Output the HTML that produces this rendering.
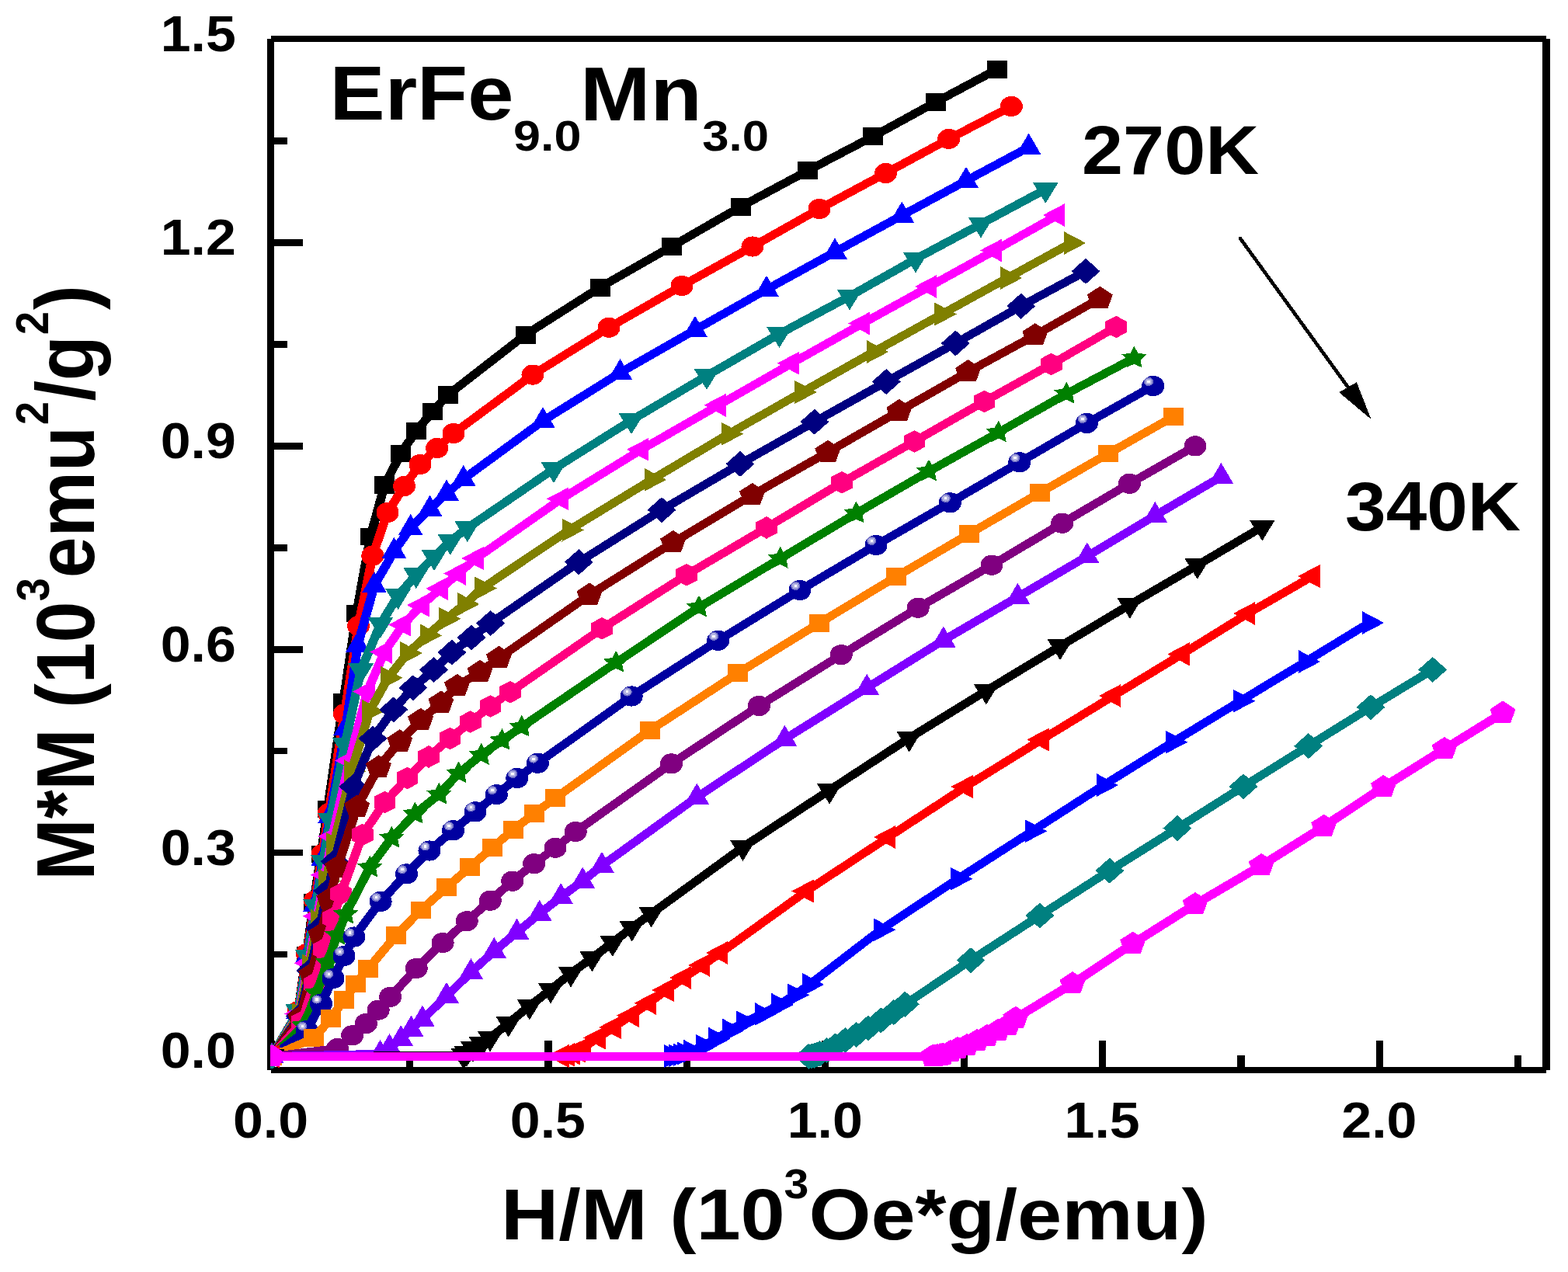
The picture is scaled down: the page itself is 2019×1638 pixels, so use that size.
<!DOCTYPE html>
<html><head><meta charset="utf-8"><style>html,body{margin:0;padding:0;background:#fff;}svg{display:block;}</style></head>
<body>
<svg width="2019" height="1638" viewBox="0 0 2019 1638" shape-rendering="crispEdges">
<rect width="2019" height="1638" fill="#fff"/>
<g stroke="#000" fill="none">
<line x1="348.5" y1="50" x2="348.5" y2="1377.5" stroke-width="9"/>
<line x1="348.5" y1="1377.5" x2="1990.9" y2="1377.5" stroke-width="8"/>
<line x1="348.5" y1="50" x2="1990.9" y2="50" stroke-width="8"/>
<line x1="1990.9" y1="50" x2="1990.9" y2="1377.5" stroke-width="9.5"/>
<line x1="348.5" y1="1359.8" x2="390" y2="1359.8" stroke-width="8.6"/>
<line x1="348.5" y1="1228.9" x2="369.7" y2="1228.9" stroke-width="8.6"/>
<line x1="348.5" y1="1098" x2="390" y2="1098" stroke-width="8.6"/>
<line x1="348.5" y1="967.1" x2="369.7" y2="967.1" stroke-width="8.6"/>
<line x1="348.5" y1="836.2" x2="390" y2="836.2" stroke-width="8.6"/>
<line x1="348.5" y1="705.3" x2="369.7" y2="705.3" stroke-width="8.6"/>
<line x1="348.5" y1="574.4" x2="390" y2="574.4" stroke-width="8.6"/>
<line x1="348.5" y1="443.5" x2="369.7" y2="443.5" stroke-width="8.6"/>
<line x1="348.5" y1="312.6" x2="390" y2="312.6" stroke-width="8.6"/>
<line x1="348.5" y1="181.7" x2="369.7" y2="181.7" stroke-width="8.6"/>
<line x1="349" y1="1377.5" x2="349" y2="1340" stroke-width="9.2"/>
<line x1="527.4" y1="1377.5" x2="527.4" y2="1358.7" stroke-width="9.2"/>
<line x1="705.9" y1="1377.5" x2="705.9" y2="1340" stroke-width="9.2"/>
<line x1="884.3" y1="1377.5" x2="884.3" y2="1358.7" stroke-width="9.2"/>
<line x1="1062.7" y1="1377.5" x2="1062.7" y2="1340" stroke-width="9.2"/>
<line x1="1241.1" y1="1377.5" x2="1241.1" y2="1358.7" stroke-width="9.2"/>
<line x1="1419.6" y1="1377.5" x2="1419.6" y2="1340" stroke-width="9.2"/>
<line x1="1598" y1="1377.5" x2="1598" y2="1358.7" stroke-width="9.2"/>
<line x1="1776.4" y1="1377.5" x2="1776.4" y2="1340" stroke-width="9.2"/>
<line x1="1954.8" y1="1377.5" x2="1954.8" y2="1358.7" stroke-width="9.2"/>
</g>
<defs><clipPath id="pc"><rect x="348" y="50" width="1643" height="1327.5"/></clipPath></defs>
<g clip-path="url(#pc)">
<polyline transform="scale(1.115,1)" points="313.90,1360.4 343.81,1306.2 353.72,1230.2 362.33,1162.0 370.94,1100.0 378.30,1042.0 396.41,904.5 411.66,790.0 427.80,691.0 444.13,624.8 462.78,584.0 480.72,555.0 499.55,530.0 517.49,508.3 606.82,431.0 693.00,370.0 775.78,317.3 855.43,266.1 932.74,219.8 1008.07,175.8 1080.72,131.4 1151.57,89.2" fill="none" stroke="#000000" stroke-width="10.5" stroke-linejoin="round"/>
<rect x="337.1" y="1349" width="25.8" height="22.9" fill="#000000"/>
<rect x="370.5" y="1294.8" width="25.8" height="22.9" fill="#000000"/>
<rect x="381.5" y="1218.8" width="25.8" height="22.9" fill="#000000"/>
<rect x="391.1" y="1150.5" width="25.8" height="22.9" fill="#000000"/>
<rect x="400.7" y="1088.5" width="25.8" height="22.9" fill="#000000"/>
<rect x="408.9" y="1030.5" width="25.8" height="22.9" fill="#000000"/>
<rect x="429.1" y="893" width="25.8" height="22.9" fill="#000000"/>
<rect x="446.1" y="778.5" width="25.8" height="22.9" fill="#000000"/>
<rect x="464.1" y="679.5" width="25.8" height="22.9" fill="#000000"/>
<rect x="482.3" y="613.3" width="25.8" height="22.9" fill="#000000"/>
<rect x="503.1" y="572.5" width="25.8" height="22.9" fill="#000000"/>
<rect x="523.1" y="543.5" width="25.8" height="22.9" fill="#000000"/>
<rect x="544.1" y="518.5" width="25.8" height="22.9" fill="#000000"/>
<rect x="564.1" y="496.9" width="25.8" height="22.9" fill="#000000"/>
<rect x="663.7" y="419.6" width="25.8" height="22.9" fill="#000000"/>
<rect x="759.8" y="358.6" width="25.8" height="22.9" fill="#000000"/>
<rect x="852.1" y="305.9" width="25.8" height="22.9" fill="#000000"/>
<rect x="940.9" y="254.7" width="25.8" height="22.9" fill="#000000"/>
<rect x="1027.1" y="208.4" width="25.8" height="22.9" fill="#000000"/>
<rect x="1111.1" y="164.4" width="25.8" height="22.9" fill="#000000"/>
<rect x="1192.1" y="120" width="25.8" height="22.9" fill="#000000"/>
<rect x="1271.1" y="77.8" width="25.8" height="22.9" fill="#000000"/>
<polyline transform="scale(1.115,1)" points="313.90,1360.4 344.37,1302.2 354.57,1228.0 363.59,1160.0 372.20,1100.0 379.64,1047.2 397.76,919.3 413.90,806.0 430.31,715.7 447.53,660.0 466.82,626.0 485.20,598.0 504.66,577.0 523.77,558.0 615.25,482.6 703.14,421.8 787.44,368.0 869.06,317.5 946.19,269.0 1022.87,223.0 1095.70,178.9 1167.98,137.0" fill="none" stroke="#FF0000" stroke-width="10.5" stroke-linejoin="round"/>
<ellipse cx="350" cy="1360.4" rx="14.5" ry="13.1" fill="#FF0000"/>
<ellipse cx="384" cy="1302.2" rx="14.5" ry="13.1" fill="#FF0000"/>
<ellipse cx="395.3" cy="1228" rx="14.5" ry="13.1" fill="#FF0000"/>
<ellipse cx="405.4" cy="1160" rx="14.5" ry="13.1" fill="#FF0000"/>
<ellipse cx="415" cy="1100" rx="14.5" ry="13.1" fill="#FF0000"/>
<ellipse cx="423.3" cy="1047.2" rx="14.5" ry="13.1" fill="#FF0000"/>
<ellipse cx="443.5" cy="919.3" rx="14.5" ry="13.1" fill="#FF0000"/>
<ellipse cx="461.5" cy="806" rx="14.5" ry="13.1" fill="#FF0000"/>
<ellipse cx="479.8" cy="715.7" rx="14.5" ry="13.1" fill="#FF0000"/>
<ellipse cx="499" cy="660" rx="14.5" ry="13.1" fill="#FF0000"/>
<ellipse cx="520.5" cy="626" rx="14.5" ry="13.1" fill="#FF0000"/>
<ellipse cx="541" cy="598" rx="14.5" ry="13.1" fill="#FF0000"/>
<ellipse cx="562.7" cy="577" rx="14.5" ry="13.1" fill="#FF0000"/>
<ellipse cx="584" cy="558" rx="14.5" ry="13.1" fill="#FF0000"/>
<ellipse cx="686" cy="482.6" rx="14.5" ry="13.1" fill="#FF0000"/>
<ellipse cx="784" cy="421.8" rx="14.5" ry="13.1" fill="#FF0000"/>
<ellipse cx="878" cy="368" rx="14.5" ry="13.1" fill="#FF0000"/>
<ellipse cx="969" cy="317.5" rx="14.5" ry="13.1" fill="#FF0000"/>
<ellipse cx="1055" cy="269" rx="14.5" ry="13.1" fill="#FF0000"/>
<ellipse cx="1140.5" cy="223" rx="14.5" ry="13.1" fill="#FF0000"/>
<ellipse cx="1221.7" cy="178.9" rx="14.5" ry="13.1" fill="#FF0000"/>
<ellipse cx="1302.3" cy="137" rx="14.5" ry="13.1" fill="#FF0000"/>
<polyline transform="scale(1.115,1)" points="313.90,1360.4 344.49,1302.7 355.03,1230.8 364.29,1164.6 373.03,1106.4 380.99,1051.0 399.10,938.0 413.18,831.0 432.29,754.0 455.11,709.8 474.13,680.0 496.41,655.5 515.70,635.5 535.16,616.9 626.91,542.0 716.14,480.0 802.69,424.8 885.20,372.8 964.13,324.5 1041.52,277.5 1115.70,232.7 1187.98,189.6" fill="none" stroke="#0000FF" stroke-width="10.5" stroke-linejoin="round"/>
<polygon points="350,1342.4 365.8,1369.4 334.2,1369.4" fill="#0000FF"/>
<polygon points="384.1,1284.7 399.9,1311.7 368.4,1311.7" fill="#0000FF"/>
<polygon points="395.9,1212.8 411.6,1239.8 380.1,1239.8" fill="#0000FF"/>
<polygon points="406.2,1146.6 421.9,1173.6 390.4,1173.6" fill="#0000FF"/>
<polygon points="415.9,1088.4 431.7,1115.4 400.2,1115.4" fill="#0000FF"/>
<polygon points="424.8,1033 440.6,1060 409.1,1060" fill="#0000FF"/>
<polygon points="445,920 460.8,947 429.2,947" fill="#0000FF"/>
<polygon points="460.7,813 476.4,840 444.9,840" fill="#0000FF"/>
<polygon points="482,736 497.8,763 466.2,763" fill="#0000FF"/>
<polygon points="507.4,691.8 523.2,718.8 491.7,718.8" fill="#0000FF"/>
<polygon points="528.7,662 544.4,689 512.9,689" fill="#0000FF"/>
<polygon points="553.5,637.5 569.2,664.5 537.8,664.5" fill="#0000FF"/>
<polygon points="575,617.5 590.8,644.5 559.2,644.5" fill="#0000FF"/>
<polygon points="596.7,598.9 612.5,625.9 581,625.9" fill="#0000FF"/>
<polygon points="699,524 714.8,551 683.2,551" fill="#0000FF"/>
<polygon points="798.5,462 814.2,489 782.8,489" fill="#0000FF"/>
<polygon points="895,406.8 910.8,433.8 879.2,433.8" fill="#0000FF"/>
<polygon points="987,354.8 1002.8,381.8 971.2,381.8" fill="#0000FF"/>
<polygon points="1075,306.5 1090.8,333.5 1059.2,333.5" fill="#0000FF"/>
<polygon points="1161.3,259.5 1177,286.5 1145.5,286.5" fill="#0000FF"/>
<polygon points="1244,214.7 1259.8,241.7 1228.2,241.7" fill="#0000FF"/>
<polygon points="1324.6,171.6 1340.3,198.6 1308.8,198.6" fill="#0000FF"/>
<polyline transform="scale(1.115,1)" points="313.90,1360.4 344.41,1302.4 355.21,1231.9 364.60,1167.0 373.43,1109.7 381.52,1055.7 398.39,959.0 416.77,863.0 439.46,803.6 459.73,767.0 480.54,740.0 501.35,717.2 520.00,696.8 539.73,680.0 639.46,604.0 729.15,541.2 816.14,483.9 900.00,430.0 981.17,381.5 1057.40,333.5 1132.74,288.5 1207.44,243.8" fill="none" stroke="#008080" stroke-width="10.5" stroke-linejoin="round"/>
<polygon points="333.5,1351.4 366.5,1351.4 350,1378.4" fill="#008080"/>
<polygon points="367.5,1293.4 400.5,1293.4 384,1320.4" fill="#008080"/>
<polygon points="379.6,1222.9 412.6,1222.9 396.1,1249.9" fill="#008080"/>
<polygon points="390,1158 423,1158 406.5,1185" fill="#008080"/>
<polygon points="399.9,1100.7 432.9,1100.7 416.4,1127.7" fill="#008080"/>
<polygon points="408.9,1046.7 441.9,1046.7 425.4,1073.7" fill="#008080"/>
<polygon points="427.7,950 460.7,950 444.2,977" fill="#008080"/>
<polygon points="448.2,854 481.2,854 464.7,881" fill="#008080"/>
<polygon points="473.5,794.6 506.5,794.6 490,821.6" fill="#008080"/>
<polygon points="496.1,758 529.1,758 512.6,785" fill="#008080"/>
<polygon points="519.3,731 552.3,731 535.8,758" fill="#008080"/>
<polygon points="542.5,708.2 575.5,708.2 559,735.2" fill="#008080"/>
<polygon points="563.3,687.8 596.3,687.8 579.8,714.8" fill="#008080"/>
<polygon points="585.3,671 618.3,671 601.8,698" fill="#008080"/>
<polygon points="696.5,595 729.5,595 713,622" fill="#008080"/>
<polygon points="796.5,532.2 829.5,532.2 813,559.2" fill="#008080"/>
<polygon points="893.5,474.9 926.5,474.9 910,501.9" fill="#008080"/>
<polygon points="987,421 1020,421 1003.5,448" fill="#008080"/>
<polygon points="1077.5,372.5 1110.5,372.5 1094,399.5" fill="#008080"/>
<polygon points="1162.5,324.5 1195.5,324.5 1179,351.5" fill="#008080"/>
<polygon points="1246.5,279.5 1279.5,279.5 1263,306.5" fill="#008080"/>
<polygon points="1329.8,234.8 1362.8,234.8 1346.3,261.8" fill="#008080"/>
<polyline transform="scale(1.115,1)" points="313.90,1360.4 345.25,1305.4 356.63,1240.1 366.42,1179.9 375.59,1126.7 384.05,1077.1 403.59,979.4 424.22,890.5 443.95,839.6 465.56,804.5 487.00,779.2 508.88,757.9 529.15,738.6 549.96,719.0 648.34,642.3 740.67,578.9 829.87,521.8 914.62,467.7 996.23,416.5 1073.36,369.0 1148.70,322.5 1221.35,277.0" fill="none" stroke="#FF00FF" stroke-width="10.5" stroke-linejoin="round"/>
<polygon points="331,1360.4 359.5,1345.4 359.5,1375.4" fill="#FF00FF"/>
<polygon points="366,1305.4 394.5,1290.4 394.5,1320.4" fill="#FF00FF"/>
<polygon points="378.6,1240.1 407.1,1225.1 407.1,1255.1" fill="#FF00FF"/>
<polygon points="389.6,1179.9 418.1,1164.9 418.1,1194.9" fill="#FF00FF"/>
<polygon points="399.8,1126.7 428.3,1111.7 428.3,1141.7" fill="#FF00FF"/>
<polygon points="409.2,1077.1 437.7,1062.1 437.7,1092.1" fill="#FF00FF"/>
<polygon points="431,979.4 459.5,964.4 459.5,994.4" fill="#FF00FF"/>
<polygon points="454,890.5 482.5,875.5 482.5,905.5" fill="#FF00FF"/>
<polygon points="476,839.6 504.5,824.6 504.5,854.6" fill="#FF00FF"/>
<polygon points="500.1,804.5 528.6,789.5 528.6,819.5" fill="#FF00FF"/>
<polygon points="524,779.2 552.5,764.2 552.5,794.2" fill="#FF00FF"/>
<polygon points="548.4,757.9 576.9,742.9 576.9,772.9" fill="#FF00FF"/>
<polygon points="571,738.6 599.5,723.6 599.5,753.6" fill="#FF00FF"/>
<polygon points="594.2,719 622.7,704 622.7,734" fill="#FF00FF"/>
<polygon points="703.9,642.3 732.4,627.3 732.4,657.3" fill="#FF00FF"/>
<polygon points="806.8,578.9 835.3,563.9 835.3,593.9" fill="#FF00FF"/>
<polygon points="906.3,521.8 934.8,506.8 934.8,536.8" fill="#FF00FF"/>
<polygon points="1000.8,467.7 1029.3,452.7 1029.3,482.7" fill="#FF00FF"/>
<polygon points="1091.8,416.5 1120.3,401.5 1120.3,431.5" fill="#FF00FF"/>
<polygon points="1177.8,369 1206.3,354 1206.3,384" fill="#FF00FF"/>
<polygon points="1261.8,322.5 1290.3,307.5 1290.3,337.5" fill="#FF00FF"/>
<polygon points="1342.8,277 1371.3,262 1371.3,292" fill="#FF00FF"/>
<polyline transform="scale(1.115,1)" points="313.90,1360.4 345.51,1306.3 357.26,1243.6 367.29,1185.7 376.63,1134.3 385.33,1087.0 406.01,993.3 426.82,915.9 448.16,872.8 470.76,841.2 493.27,818.3 515.25,796.9 536.68,778.0 556.86,757.5 657.40,682.5 752.47,617.8 841.43,558.8 926.28,505.0 1009.15,453.0 1087.62,404.6 1163.41,358.0 1236.95,313.0" fill="none" stroke="#808000" stroke-width="10.5" stroke-linejoin="round"/>
<polygon points="369,1360.4 340.5,1345.4 340.5,1375.4" fill="#808000"/>
<polygon points="404.2,1306.3 375.7,1291.3 375.7,1321.3" fill="#808000"/>
<polygon points="417.4,1243.6 388.9,1228.6 388.9,1258.6" fill="#808000"/>
<polygon points="428.5,1185.7 400,1170.7 400,1200.7" fill="#808000"/>
<polygon points="438.9,1134.3 410.4,1119.3 410.4,1149.3" fill="#808000"/>
<polygon points="448.6,1087 420.1,1072 420.1,1102" fill="#808000"/>
<polygon points="471.7,993.3 443.2,978.3 443.2,1008.3" fill="#808000"/>
<polygon points="494.9,915.9 466.4,900.9 466.4,930.9" fill="#808000"/>
<polygon points="518.7,872.8 490.2,857.8 490.2,887.8" fill="#808000"/>
<polygon points="543.9,841.2 515.4,826.2 515.4,856.2" fill="#808000"/>
<polygon points="569,818.3 540.5,803.3 540.5,833.3" fill="#808000"/>
<polygon points="593.5,796.9 565,781.9 565,811.9" fill="#808000"/>
<polygon points="617.4,778 588.9,763 588.9,793" fill="#808000"/>
<polygon points="639.9,757.5 611.4,742.5 611.4,772.5" fill="#808000"/>
<polygon points="752,682.5 723.5,667.5 723.5,697.5" fill="#808000"/>
<polygon points="858,617.8 829.5,602.8 829.5,632.8" fill="#808000"/>
<polygon points="957.2,558.8 928.7,543.8 928.7,573.8" fill="#808000"/>
<polygon points="1051.8,505 1023.3,490 1023.3,520" fill="#808000"/>
<polygon points="1144.2,453 1115.7,438 1115.7,468" fill="#808000"/>
<polygon points="1231.7,404.6 1203.2,389.6 1203.2,419.6" fill="#808000"/>
<polygon points="1316.2,358 1287.7,343 1287.7,373" fill="#808000"/>
<polygon points="1398.2,313 1369.7,298 1369.7,328" fill="#808000"/>
<polyline transform="scale(1.115,1)" points="313.90,1360.4 346.23,1308.6 358.50,1249.8 368.88,1195.5 378.53,1147.2 386.55,1109.4 408.07,1013.0 430.49,951.0 454.53,913.8 477.04,885.7 500.90,862.5 521.88,840.1 544.39,821.0 566.46,802.5 668.43,723.8 764.13,656.7 854.71,597.4 940.63,543.2 1023.50,491.5 1103.41,442.0 1179.10,394.2 1253.81,349.3" fill="none" stroke="#000080" stroke-width="10.5" stroke-linejoin="round"/>
<polygon points="350,1343.9 368.5,1360.4 350,1376.9 331.5,1360.4" fill="#000080"/>
<polygon points="386,1292.1 404.5,1308.6 386,1325.1 367.5,1308.6" fill="#000080"/>
<polygon points="399.7,1233.3 418.2,1249.8 399.7,1266.3 381.2,1249.8" fill="#000080"/>
<polygon points="411.3,1179 429.8,1195.5 411.3,1212 392.8,1195.5" fill="#000080"/>
<polygon points="422.1,1130.7 440.6,1147.2 422.1,1163.7 403.6,1147.2" fill="#000080"/>
<polygon points="431,1092.9 449.5,1109.4 431,1125.9 412.5,1109.4" fill="#000080"/>
<polygon points="455,996.5 473.5,1013 455,1029.5 436.5,1013" fill="#000080"/>
<polygon points="480,934.5 498.5,951 480,967.5 461.5,951" fill="#000080"/>
<polygon points="506.8,897.3 525.3,913.8 506.8,930.3 488.3,913.8" fill="#000080"/>
<polygon points="531.9,869.2 550.4,885.7 531.9,902.2 513.4,885.7" fill="#000080"/>
<polygon points="558.5,846 577,862.5 558.5,879 540,862.5" fill="#000080"/>
<polygon points="581.9,823.6 600.4,840.1 581.9,856.6 563.4,840.1" fill="#000080"/>
<polygon points="607,804.5 625.5,821 607,837.5 588.5,821" fill="#000080"/>
<polygon points="631.6,786 650.1,802.5 631.6,819 613.1,802.5" fill="#000080"/>
<polygon points="745.3,707.3 763.8,723.8 745.3,740.3 726.8,723.8" fill="#000080"/>
<polygon points="852,640.2 870.5,656.7 852,673.2 833.5,656.7" fill="#000080"/>
<polygon points="953,580.9 971.5,597.4 953,613.9 934.5,597.4" fill="#000080"/>
<polygon points="1048.8,526.7 1067.3,543.2 1048.8,559.7 1030.3,543.2" fill="#000080"/>
<polygon points="1141.2,475 1159.7,491.5 1141.2,508 1122.7,491.5" fill="#000080"/>
<polygon points="1230.3,425.5 1248.8,442 1230.3,458.5 1211.8,442" fill="#000080"/>
<polygon points="1314.7,377.7 1333.2,394.2 1314.7,410.7 1296.2,394.2" fill="#000080"/>
<polygon points="1398,332.8 1416.5,349.3 1398,365.8 1379.5,349.3" fill="#000080"/>
<polyline transform="scale(1.115,1)" points="313.90,1360.4 346.82,1310.4 359.63,1255.1 370.38,1204.0 380.31,1158.3 389.69,1117.2 412.29,1039.2 437.13,988.0 461.70,954.9 485.74,927.4 509.33,905.0 527.89,883.5 554.26,865.4 576.23,847.4 680.72,766.1 777.31,698.5 868.70,637.5 955.96,582.3 1038.39,529.5 1118.03,478.7 1195.34,431.7 1270.22,384.3" fill="none" stroke="#800000" stroke-width="10.5" stroke-linejoin="round"/>
<polygon points="350,1344.8 366.5,1355.6 360.2,1373 339.8,1373 333.5,1355.6" fill="#800000"/>
<polygon points="386.7,1294.8 403.3,1305.6 396.9,1323 376.5,1323 370.2,1305.6" fill="#800000"/>
<polygon points="401,1239.5 417.5,1250.3 411.2,1267.8 390.8,1267.8 384.4,1250.3" fill="#800000"/>
<polygon points="413,1188.4 429.5,1199.1 423.2,1216.6 402.7,1216.6 396.4,1199.1" fill="#800000"/>
<polygon points="424,1142.7 440.6,1153.5 434.3,1170.9 413.8,1170.9 407.5,1153.5" fill="#800000"/>
<polygon points="434.5,1101.6 451,1112.3 444.7,1129.8 424.3,1129.8 418,1112.3" fill="#800000"/>
<polygon points="459.7,1023.6 476.2,1034.4 469.9,1051.8 449.5,1051.8 443.2,1034.4" fill="#800000"/>
<polygon points="487.4,972.4 503.9,983.2 497.6,1000.6 477.2,1000.6 470.9,983.2" fill="#800000"/>
<polygon points="514.8,939.3 531.3,950.1 525,967.5 504.6,967.5 498.3,950.1" fill="#800000"/>
<polygon points="541.6,911.8 558.1,922.6 551.8,940 531.4,940 525.1,922.6" fill="#800000"/>
<polygon points="567.9,889.4 584.4,900.2 578.1,917.6 557.7,917.6 551.4,900.2" fill="#800000"/>
<polygon points="588.6,867.9 605.1,878.7 598.8,896.1 578.4,896.1 572.1,878.7" fill="#800000"/>
<polygon points="618,849.8 634.5,860.6 628.2,878 607.8,878 601.5,860.6" fill="#800000"/>
<polygon points="642.5,831.8 659,842.6 652.7,860 632.3,860 626,842.6" fill="#800000"/>
<polygon points="759,750.5 775.5,761.3 769.2,778.7 748.8,778.7 742.5,761.3" fill="#800000"/>
<polygon points="866.7,682.9 883.2,693.7 876.9,711.1 856.5,711.1 850.2,693.7" fill="#800000"/>
<polygon points="968.6,621.9 985.1,632.7 978.8,650.1 958.4,650.1 952.1,632.7" fill="#800000"/>
<polygon points="1065.9,566.7 1082.4,577.5 1076.1,594.9 1055.7,594.9 1049.4,577.5" fill="#800000"/>
<polygon points="1157.8,513.9 1174.3,524.7 1168,542.1 1147.6,542.1 1141.3,524.7" fill="#800000"/>
<polygon points="1246.6,463.1 1263.1,473.9 1256.8,491.3 1236.4,491.3 1230.1,473.9" fill="#800000"/>
<polygon points="1332.8,416.1 1349.3,426.9 1343,444.3 1322.6,444.3 1316.3,426.9" fill="#800000"/>
<polygon points="1416.3,368.7 1432.8,379.5 1426.5,396.9 1406.1,396.9 1399.8,379.5" fill="#800000"/>
<polyline transform="scale(1.115,1)" points="313.90,1360.4 348.76,1315.6 362.57,1267.3 374.09,1222.4 384.69,1182.3 393.72,1151.0 418.57,1075.0 444.39,1033.1 470.40,1001.9 495.07,974.5 519.73,950.9 543.44,929.5 566.46,909.4 588.97,891.3 695.16,809.4 792.83,740.2 885.20,679.5 972.20,621.3 1055.87,568.5 1136.77,517.0 1214.08,469.0 1288.88,421.0" fill="none" stroke="#FF0080" stroke-width="10.5" stroke-linejoin="round"/>
<polygon points="350,1346.1 363.8,1353.2 363.8,1367.6 350,1374.7 336.2,1367.6 336.2,1353.2" fill="#FF0080"/>
<polygon points="388.9,1301.3 402.7,1308.5 402.7,1322.8 388.9,1329.9 375.1,1322.8 375.1,1308.5" fill="#FF0080"/>
<polygon points="404.3,1253 418.1,1260.1 418.1,1274.4 404.3,1281.6 390.5,1274.4 390.5,1260.1" fill="#FF0080"/>
<polygon points="417.1,1208.1 430.9,1215.3 430.9,1229.6 417.1,1236.7 403.3,1229.6 403.3,1215.3" fill="#FF0080"/>
<polygon points="428.9,1168 442.7,1175.1 442.7,1189.4 428.9,1196.6 415.1,1189.4 415.1,1175.1" fill="#FF0080"/>
<polygon points="439,1136.7 452.8,1143.8 452.8,1158.2 439,1165.3 425.2,1158.2 425.2,1143.8" fill="#FF0080"/>
<polygon points="466.7,1060.7 480.5,1067.8 480.5,1082.2 466.7,1089.3 452.9,1082.2 452.9,1067.8" fill="#FF0080"/>
<polygon points="495.5,1018.8 509.3,1025.9 509.3,1040.2 495.5,1047.4 481.7,1040.2 481.7,1025.9" fill="#FF0080"/>
<polygon points="524.5,987.6 538.3,994.8 538.3,1009 524.5,1016.2 510.7,1009 510.7,994.8" fill="#FF0080"/>
<polygon points="552,960.2 565.8,967.4 565.8,981.6 552,988.8 538.2,981.6 538.2,967.4" fill="#FF0080"/>
<polygon points="579.5,936.6 593.3,943.8 593.3,958 579.5,965.2 565.7,958 565.7,943.8" fill="#FF0080"/>
<polygon points="605.9,915.2 619.7,922.3 619.7,936.6 605.9,943.8 592.1,936.6 592.1,922.3" fill="#FF0080"/>
<polygon points="631.6,895.1 645.4,902.2 645.4,916.5 631.6,923.7 617.8,916.5 617.8,902.2" fill="#FF0080"/>
<polygon points="656.7,877 670.5,884.1 670.5,898.4 656.7,905.6 642.9,898.4 642.9,884.1" fill="#FF0080"/>
<polygon points="775.1,795.1 788.9,802.2 788.9,816.5 775.1,823.7 761.3,816.5 761.3,802.2" fill="#FF0080"/>
<polygon points="884,725.9 897.8,733.1 897.8,747.4 884,754.5 870.2,747.4 870.2,733.1" fill="#FF0080"/>
<polygon points="987,665.2 1000.8,672.4 1000.8,686.6 987,693.8 973.2,686.6 973.2,672.4" fill="#FF0080"/>
<polygon points="1084,607 1097.8,614.1 1097.8,628.4 1084,635.6 1070.2,628.4 1070.2,614.1" fill="#FF0080"/>
<polygon points="1177.3,554.2 1191.1,561.4 1191.1,575.6 1177.3,582.8 1163.5,575.6 1163.5,561.4" fill="#FF0080"/>
<polygon points="1267.5,502.7 1281.3,509.9 1281.3,524.1 1267.5,531.3 1253.7,524.1 1253.7,509.9" fill="#FF0080"/>
<polygon points="1353.7,454.7 1367.5,461.9 1367.5,476.1 1353.7,483.3 1339.9,476.2 1339.9,461.9" fill="#FF0080"/>
<polygon points="1437.1,406.7 1450.9,413.9 1450.9,428.1 1437.1,435.3 1423.3,428.2 1423.3,413.9" fill="#FF0080"/>
<polyline transform="scale(1.115,1)" points="313.90,1360.4 350.87,1320.5 365.83,1278.4 378.21,1239.3 389.56,1204.2 399.19,1177.0 427.09,1117.0 452.29,1079.0 479.37,1048.0 507.09,1023.0 529.60,995.8 555.83,972.3 579.78,953.4 602.42,936.1 711.39,853.3 807.17,782.0 901.08,719.3 988.79,661.0 1072.65,607.0 1153.09,557.0 1231.66,507.0 1309.78,461.0" fill="none" stroke="#008000" stroke-width="10.5" stroke-linejoin="round"/>
<polygon points="350,1345.1 355,1354.2 366.2,1355.7 358.1,1362.8 360,1372.8 350,1368.1 340,1372.8 341.9,1362.8 333.8,1355.7 345,1354.2" fill="#008000"/>
<polygon points="391.2,1305.2 396.2,1314.3 407.4,1315.8 399.3,1322.9 401.2,1332.9 391.2,1328.2 381.2,1332.9 383.1,1322.9 375,1315.8 386.2,1314.3" fill="#008000"/>
<polygon points="407.9,1263.1 412.9,1272.2 424.1,1273.7 416,1280.7 417.9,1290.8 407.9,1286 397.9,1290.8 399.8,1280.7 391.7,1273.7 402.9,1272.2" fill="#008000"/>
<polygon points="421.7,1224 426.7,1233.1 437.9,1234.6 429.8,1241.6 431.7,1251.7 421.7,1246.9 411.7,1251.7 413.6,1241.6 405.5,1234.6 416.7,1233.1" fill="#008000"/>
<polygon points="434.4,1188.9 439.4,1198 450.6,1199.5 442.5,1206.6 444.4,1216.6 434.4,1211.9 424.3,1216.6 426.2,1206.6 418.1,1199.5 429.3,1198" fill="#008000"/>
<polygon points="445.1,1161.7 450.1,1170.8 461.3,1172.3 453.2,1179.4 455.1,1189.4 445.1,1184.7 435.1,1189.4 437,1179.4 428.9,1172.3 440.1,1170.8" fill="#008000"/>
<polygon points="476.2,1101.7 481.2,1110.8 492.4,1112.3 484.3,1119.4 486.2,1129.4 476.2,1124.7 466.2,1129.4 468.1,1119.4 460,1112.3 471.2,1110.8" fill="#008000"/>
<polygon points="504.3,1063.7 509.3,1072.8 520.5,1074.3 512.4,1081.4 514.3,1091.4 504.3,1086.7 494.3,1091.4 496.2,1081.4 488.1,1074.3 499.3,1072.8" fill="#008000"/>
<polygon points="534.5,1032.7 539.5,1041.8 550.7,1043.3 542.6,1050.4 544.5,1060.4 534.5,1055.7 524.5,1060.4 526.4,1050.4 518.3,1043.3 529.5,1041.8" fill="#008000"/>
<polygon points="565.4,1007.7 570.4,1016.8 581.6,1018.3 573.5,1025.4 575.4,1035.4 565.4,1030.7 555.4,1035.4 557.3,1025.4 549.2,1018.3 560.4,1016.8" fill="#008000"/>
<polygon points="590.5,980.5 595.5,989.6 606.7,991.1 598.6,998.2 600.5,1008.2 590.5,1003.4 580.5,1008.2 582.4,998.2 574.3,991.1 585.5,989.6" fill="#008000"/>
<polygon points="619.7,957 624.8,966.1 636,967.6 627.9,974.7 629.8,984.7 619.7,979.9 609.7,984.7 611.6,974.7 603.5,967.6 614.7,966.1" fill="#008000"/>
<polygon points="646.4,938.1 651.5,947.2 662.7,948.7 654.6,955.8 656.5,965.8 646.4,961.1 636.4,965.8 638.3,955.8 630.2,948.7 641.4,947.2" fill="#008000"/>
<polygon points="671.7,920.9 676.7,930 687.9,931.4 679.8,938.5 681.7,948.5 671.7,943.8 661.7,948.5 663.6,938.5 655.5,931.4 666.7,930" fill="#008000"/>
<polygon points="793.2,838 798.2,847.1 809.4,848.6 801.3,855.7 803.2,865.7 793.2,860.9 783.2,865.7 785.1,855.7 777,848.6 788.2,847.1" fill="#008000"/>
<polygon points="900,766.7 905,775.8 916.2,777.3 908.1,784.4 910,794.4 900,789.6 890,794.4 891.9,784.4 883.8,777.3 895,775.8" fill="#008000"/>
<polygon points="1004.7,704 1009.7,713.1 1020.9,714.6 1012.8,721.7 1014.7,731.7 1004.7,726.9 994.7,731.7 996.6,721.7 988.5,714.6 999.7,713.1" fill="#008000"/>
<polygon points="1102.5,645.7 1107.5,654.8 1118.7,656.3 1110.6,663.4 1112.5,673.4 1102.5,668.6 1092.5,673.4 1094.4,663.4 1086.3,656.3 1097.5,654.8" fill="#008000"/>
<polygon points="1196,591.7 1201,600.8 1212.2,602.3 1204.1,609.4 1206,619.4 1196,614.6 1186,619.4 1187.9,609.4 1179.8,602.3 1191,600.8" fill="#008000"/>
<polygon points="1285.7,541.7 1290.7,550.8 1301.9,552.3 1293.8,559.4 1295.7,569.4 1285.7,564.6 1275.7,569.4 1277.6,559.4 1269.5,552.3 1280.7,550.8" fill="#008000"/>
<polygon points="1373.3,491.7 1378.3,500.8 1389.5,502.3 1381.4,509.4 1383.3,519.4 1373.3,514.6 1363.3,519.4 1365.2,509.4 1357.1,502.3 1368.3,500.8" fill="#008000"/>
<polygon points="1460.4,445.7 1465.4,454.8 1476.6,456.3 1468.5,463.4 1470.4,473.4 1460.4,468.6 1450.4,473.4 1452.3,463.4 1444.2,456.3 1455.4,454.8" fill="#008000"/>
<polyline transform="scale(1.115,1)" points="313.90,1360.4 354.26,1327.0 370.85,1292.6 384.75,1260.0 397.31,1231.0 408.97,1206.5 439.55,1160.9 469.51,1125.4 495.96,1095.5 523.28,1069.3 548.86,1045.4 573.49,1023.1 597.13,1002.0 620.99,982.7 729.37,896.5 829.33,824.8 923.77,760.0 1011.66,702.0 1097.13,647.3 1177.40,595.3 1255.07,545.0 1331.57,497.0" fill="none" stroke="#0000A0" stroke-width="10.5" stroke-linejoin="round"/>
<ellipse cx="350" cy="1360.4" rx="14.5" ry="13.1" fill="#0000A0"/><ellipse cx="344.3" cy="1354.8" rx="6.2" ry="5.6" fill="#7474c8"/><ellipse cx="344.3" cy="1354.8" rx="4.3" ry="3.9" fill="#b2b2e2"/><rect x="342.5" y="1353.2" width="3.6" height="3.2" fill="#fff"/>
<ellipse cx="395" cy="1327" rx="14.5" ry="13.1" fill="#0000A0"/><ellipse cx="389.3" cy="1321.4" rx="6.2" ry="5.6" fill="#7474c8"/><ellipse cx="389.3" cy="1321.4" rx="4.3" ry="3.9" fill="#b2b2e2"/><rect x="387.5" y="1319.8" width="3.6" height="3.2" fill="#fff"/>
<ellipse cx="413.5" cy="1292.6" rx="14.5" ry="13.1" fill="#0000A0"/><ellipse cx="407.8" cy="1287" rx="6.2" ry="5.6" fill="#7474c8"/><ellipse cx="407.8" cy="1287" rx="4.3" ry="3.9" fill="#b2b2e2"/><rect x="406" y="1285.4" width="3.6" height="3.2" fill="#fff"/>
<ellipse cx="429" cy="1260" rx="14.5" ry="13.1" fill="#0000A0"/><ellipse cx="423.3" cy="1254.4" rx="6.2" ry="5.6" fill="#7474c8"/><ellipse cx="423.3" cy="1254.4" rx="4.3" ry="3.9" fill="#b2b2e2"/><rect x="421.5" y="1252.8" width="3.6" height="3.2" fill="#fff"/>
<ellipse cx="443" cy="1231" rx="14.5" ry="13.1" fill="#0000A0"/><ellipse cx="437.3" cy="1225.4" rx="6.2" ry="5.6" fill="#7474c8"/><ellipse cx="437.3" cy="1225.4" rx="4.3" ry="3.9" fill="#b2b2e2"/><rect x="435.5" y="1223.8" width="3.6" height="3.2" fill="#fff"/>
<ellipse cx="456" cy="1206.5" rx="14.5" ry="13.1" fill="#0000A0"/><ellipse cx="450.3" cy="1200.9" rx="6.2" ry="5.6" fill="#7474c8"/><ellipse cx="450.3" cy="1200.9" rx="4.3" ry="3.9" fill="#b2b2e2"/><rect x="448.5" y="1199.3" width="3.6" height="3.2" fill="#fff"/>
<ellipse cx="490.1" cy="1160.9" rx="14.5" ry="13.1" fill="#0000A0"/><ellipse cx="484.4" cy="1155.3" rx="6.2" ry="5.6" fill="#7474c8"/><ellipse cx="484.4" cy="1155.3" rx="4.3" ry="3.9" fill="#b2b2e2"/><rect x="482.6" y="1153.7" width="3.6" height="3.2" fill="#fff"/>
<ellipse cx="523.5" cy="1125.4" rx="14.5" ry="13.1" fill="#0000A0"/><ellipse cx="517.8" cy="1119.8" rx="6.2" ry="5.6" fill="#7474c8"/><ellipse cx="517.8" cy="1119.8" rx="4.3" ry="3.9" fill="#b2b2e2"/><rect x="516" y="1118.2" width="3.6" height="3.2" fill="#fff"/>
<ellipse cx="553" cy="1095.5" rx="14.5" ry="13.1" fill="#0000A0"/><ellipse cx="547.3" cy="1089.9" rx="6.2" ry="5.6" fill="#7474c8"/><ellipse cx="547.3" cy="1089.9" rx="4.3" ry="3.9" fill="#b2b2e2"/><rect x="545.5" y="1088.3" width="3.6" height="3.2" fill="#fff"/>
<ellipse cx="583.5" cy="1069.3" rx="14.5" ry="13.1" fill="#0000A0"/><ellipse cx="577.8" cy="1063.7" rx="6.2" ry="5.6" fill="#7474c8"/><ellipse cx="577.8" cy="1063.7" rx="4.3" ry="3.9" fill="#b2b2e2"/><rect x="576" y="1062.1" width="3.6" height="3.2" fill="#fff"/>
<ellipse cx="612" cy="1045.4" rx="14.5" ry="13.1" fill="#0000A0"/><ellipse cx="606.3" cy="1039.8" rx="6.2" ry="5.6" fill="#7474c8"/><ellipse cx="606.3" cy="1039.8" rx="4.3" ry="3.9" fill="#b2b2e2"/><rect x="604.5" y="1038.2" width="3.6" height="3.2" fill="#fff"/>
<ellipse cx="639.4" cy="1023.1" rx="14.5" ry="13.1" fill="#0000A0"/><ellipse cx="633.7" cy="1017.5" rx="6.2" ry="5.6" fill="#7474c8"/><ellipse cx="633.7" cy="1017.5" rx="4.3" ry="3.9" fill="#b2b2e2"/><rect x="631.9" y="1015.9" width="3.6" height="3.2" fill="#fff"/>
<ellipse cx="665.8" cy="1002" rx="14.5" ry="13.1" fill="#0000A0"/><ellipse cx="660.1" cy="996.4" rx="6.2" ry="5.6" fill="#7474c8"/><ellipse cx="660.1" cy="996.4" rx="4.3" ry="3.9" fill="#b2b2e2"/><rect x="658.3" y="994.8" width="3.6" height="3.2" fill="#fff"/>
<ellipse cx="692.4" cy="982.7" rx="14.5" ry="13.1" fill="#0000A0"/><ellipse cx="686.7" cy="977.1" rx="6.2" ry="5.6" fill="#7474c8"/><ellipse cx="686.7" cy="977.1" rx="4.3" ry="3.9" fill="#b2b2e2"/><rect x="684.9" y="975.5" width="3.6" height="3.2" fill="#fff"/>
<ellipse cx="813.2" cy="896.5" rx="14.5" ry="13.1" fill="#0000A0"/><ellipse cx="807.5" cy="890.9" rx="6.2" ry="5.6" fill="#7474c8"/><ellipse cx="807.5" cy="890.9" rx="4.3" ry="3.9" fill="#b2b2e2"/><rect x="805.8" y="889.2" width="3.6" height="3.2" fill="#fff"/>
<ellipse cx="924.7" cy="824.8" rx="14.5" ry="13.1" fill="#0000A0"/><ellipse cx="919" cy="819.2" rx="6.2" ry="5.6" fill="#7474c8"/><ellipse cx="919" cy="819.2" rx="4.3" ry="3.9" fill="#b2b2e2"/><rect x="917.2" y="817.6" width="3.6" height="3.2" fill="#fff"/>
<ellipse cx="1030" cy="760" rx="14.5" ry="13.1" fill="#0000A0"/><ellipse cx="1024.3" cy="754.4" rx="6.2" ry="5.6" fill="#7474c8"/><ellipse cx="1024.3" cy="754.4" rx="4.3" ry="3.9" fill="#b2b2e2"/><rect x="1022.5" y="752.8" width="3.6" height="3.2" fill="#fff"/>
<ellipse cx="1128" cy="702" rx="14.5" ry="13.1" fill="#0000A0"/><ellipse cx="1122.3" cy="696.4" rx="6.2" ry="5.6" fill="#7474c8"/><ellipse cx="1122.3" cy="696.4" rx="4.3" ry="3.9" fill="#b2b2e2"/><rect x="1120.5" y="694.8" width="3.6" height="3.2" fill="#fff"/>
<ellipse cx="1223.3" cy="647.3" rx="14.5" ry="13.1" fill="#0000A0"/><ellipse cx="1217.6" cy="641.7" rx="6.2" ry="5.6" fill="#7474c8"/><ellipse cx="1217.6" cy="641.7" rx="4.3" ry="3.9" fill="#b2b2e2"/><rect x="1215.8" y="640.1" width="3.6" height="3.2" fill="#fff"/>
<ellipse cx="1312.8" cy="595.3" rx="14.5" ry="13.1" fill="#0000A0"/><ellipse cx="1307.1" cy="589.7" rx="6.2" ry="5.6" fill="#7474c8"/><ellipse cx="1307.1" cy="589.7" rx="4.3" ry="3.9" fill="#b2b2e2"/><rect x="1305.3" y="588.1" width="3.6" height="3.2" fill="#fff"/>
<ellipse cx="1399.4" cy="545" rx="14.5" ry="13.1" fill="#0000A0"/><ellipse cx="1393.7" cy="539.4" rx="6.2" ry="5.6" fill="#7474c8"/><ellipse cx="1393.7" cy="539.4" rx="4.3" ry="3.9" fill="#b2b2e2"/><rect x="1391.9" y="537.8" width="3.6" height="3.2" fill="#fff"/>
<ellipse cx="1484.7" cy="497" rx="14.5" ry="13.1" fill="#0000A0"/><ellipse cx="1479" cy="491.4" rx="6.2" ry="5.6" fill="#7474c8"/><ellipse cx="1479" cy="491.4" rx="4.3" ry="3.9" fill="#b2b2e2"/><rect x="1477.2" y="489.8" width="3.6" height="3.2" fill="#fff"/>
<polyline transform="scale(1.115,1)" points="313.90,1360.4 362.60,1336.8 382.06,1311.6 397.31,1287.3 410.76,1267.0 425.11,1247.4 457.40,1204.7 485.92,1172.0 515.70,1142.8 542.71,1116.5 568.38,1091.8 592.56,1068.6 617.31,1047.4 641.17,1027.7 750.67,940.4 852.20,866.8 946.19,802.4 1034.98,742.5 1119.46,687.3 1201.17,634.3 1280.00,584.0 1354.89,536.6" fill="none" stroke="#FF8000" stroke-width="10.5" stroke-linejoin="round"/>
<rect x="337.1" y="1349" width="25.8" height="22.9" fill="#FF8000"/>
<rect x="391.4" y="1325.3" width="25.8" height="22.9" fill="#FF8000"/>
<rect x="413.1" y="1300.1" width="25.8" height="22.9" fill="#FF8000"/>
<rect x="430.1" y="1275.8" width="25.8" height="22.9" fill="#FF8000"/>
<rect x="445.1" y="1255.5" width="25.8" height="22.9" fill="#FF8000"/>
<rect x="461.1" y="1236" width="25.8" height="22.9" fill="#FF8000"/>
<rect x="497.1" y="1193.2" width="25.8" height="22.9" fill="#FF8000"/>
<rect x="528.9" y="1160.5" width="25.8" height="22.9" fill="#FF8000"/>
<rect x="562.1" y="1131.4" width="25.8" height="22.9" fill="#FF8000"/>
<rect x="592.2" y="1105" width="25.8" height="22.9" fill="#FF8000"/>
<rect x="620.8" y="1080.3" width="25.8" height="22.9" fill="#FF8000"/>
<rect x="647.8" y="1057.1" width="25.8" height="22.9" fill="#FF8000"/>
<rect x="675.4" y="1036" width="25.8" height="22.9" fill="#FF8000"/>
<rect x="702" y="1016.2" width="25.8" height="22.9" fill="#FF8000"/>
<rect x="824.1" y="928.9" width="25.8" height="22.9" fill="#FF8000"/>
<rect x="937.3" y="855.3" width="25.8" height="22.9" fill="#FF8000"/>
<rect x="1042.1" y="790.9" width="25.8" height="22.9" fill="#FF8000"/>
<rect x="1141.1" y="731" width="25.8" height="22.9" fill="#FF8000"/>
<rect x="1235.3" y="675.8" width="25.8" height="22.9" fill="#FF8000"/>
<rect x="1326.4" y="622.8" width="25.8" height="22.9" fill="#FF8000"/>
<rect x="1414.3" y="572.5" width="25.8" height="22.9" fill="#FF8000"/>
<rect x="1497.8" y="525.1" width="25.8" height="22.9" fill="#FF8000"/>
<polyline transform="scale(1.115,1)" points="313.90,1360.4 389.69,1350.0 406.91,1333.3 422.83,1318.0 436.95,1300.6 450.76,1283.8 480.90,1246.9 511.30,1214.0 539.19,1186.2 566.23,1159.7 591.66,1134.7 616.77,1112.2 641.26,1091.8 664.75,1071.0 775.34,983.4 876.59,909.0 971.48,843.2 1060.27,782.7 1145.29,727.7 1226.64,673.7 1304.39,622.8 1380.27,574.4" fill="none" stroke="#800080" stroke-width="10.5" stroke-linejoin="round"/>
<ellipse cx="350" cy="1360.4" rx="14.5" ry="13.1" fill="#800080"/>
<ellipse cx="434.5" cy="1350" rx="14.5" ry="13.1" fill="#800080"/>
<ellipse cx="453.7" cy="1333.3" rx="14.5" ry="13.1" fill="#800080"/>
<ellipse cx="471.4" cy="1318" rx="14.5" ry="13.1" fill="#800080"/>
<ellipse cx="487.2" cy="1300.6" rx="14.5" ry="13.1" fill="#800080"/>
<ellipse cx="502.6" cy="1283.8" rx="14.5" ry="13.1" fill="#800080"/>
<ellipse cx="536.2" cy="1246.9" rx="14.5" ry="13.1" fill="#800080"/>
<ellipse cx="570.1" cy="1214" rx="14.5" ry="13.1" fill="#800080"/>
<ellipse cx="601.2" cy="1186.2" rx="14.5" ry="13.1" fill="#800080"/>
<ellipse cx="631.3" cy="1159.7" rx="14.5" ry="13.1" fill="#800080"/>
<ellipse cx="659.7" cy="1134.7" rx="14.5" ry="13.1" fill="#800080"/>
<ellipse cx="687.7" cy="1112.2" rx="14.5" ry="13.1" fill="#800080"/>
<ellipse cx="715" cy="1091.8" rx="14.5" ry="13.1" fill="#800080"/>
<ellipse cx="741.2" cy="1071" rx="14.5" ry="13.1" fill="#800080"/>
<ellipse cx="864.5" cy="983.4" rx="14.5" ry="13.1" fill="#800080"/>
<ellipse cx="977.4" cy="909" rx="14.5" ry="13.1" fill="#800080"/>
<ellipse cx="1083.2" cy="843.2" rx="14.5" ry="13.1" fill="#800080"/>
<ellipse cx="1182.2" cy="782.7" rx="14.5" ry="13.1" fill="#800080"/>
<ellipse cx="1277" cy="727.7" rx="14.5" ry="13.1" fill="#800080"/>
<ellipse cx="1367.7" cy="673.7" rx="14.5" ry="13.1" fill="#800080"/>
<ellipse cx="1454.4" cy="622.8" rx="14.5" ry="13.1" fill="#800080"/>
<ellipse cx="1539" cy="574.4" rx="14.5" ry="13.1" fill="#800080"/>
<polyline transform="scale(1.115,1)" points="313.90,1360.4 439.01,1357.0 449.78,1349.0 462.96,1338.0 474.89,1325.5 487.80,1312.7 515.70,1282.7 543.86,1252.0 570.67,1224.9 596.91,1200.7 623.05,1176.7 647.71,1155.1 672.83,1134.5 695.07,1114.8 804.75,1026.5 906.19,951.8 1001.08,885.7 1089.51,824.5 1175.25,768.7 1255.46,716.3 1333.99,663.9 1410.22,613.9" fill="none" stroke="#8000FF" stroke-width="10.5" stroke-linejoin="round"/>
<polygon points="350,1342.4 365.8,1369.4 334.2,1369.4" fill="#8000FF"/>
<polygon points="489.5,1339 505.2,1366 473.8,1366" fill="#8000FF"/>
<polygon points="501.5,1331 517.2,1358 485.8,1358" fill="#8000FF"/>
<polygon points="516.2,1320 532,1347 500.5,1347" fill="#8000FF"/>
<polygon points="529.5,1307.5 545.2,1334.5 513.8,1334.5" fill="#8000FF"/>
<polygon points="543.9,1294.7 559.6,1321.7 528.1,1321.7" fill="#8000FF"/>
<polygon points="575,1264.7 590.8,1291.7 559.2,1291.7" fill="#8000FF"/>
<polygon points="606.4,1234 622.1,1261 590.6,1261" fill="#8000FF"/>
<polygon points="636.3,1206.9 652,1233.9 620.5,1233.9" fill="#8000FF"/>
<polygon points="665.5,1182.7 681.3,1209.7 649.8,1209.7" fill="#8000FF"/>
<polygon points="694.7,1158.7 710.5,1185.7 679,1185.7" fill="#8000FF"/>
<polygon points="722.2,1137.1 738,1164.1 706.5,1164.1" fill="#8000FF"/>
<polygon points="750.2,1116.5 766,1143.5 734.5,1143.5" fill="#8000FF"/>
<polygon points="775,1096.8 790.8,1123.8 759.2,1123.8" fill="#8000FF"/>
<polygon points="897.3,1008.5 913,1035.5 881.5,1035.5" fill="#8000FF"/>
<polygon points="1010.4,933.8 1026.2,960.8 994.6,960.8" fill="#8000FF"/>
<polygon points="1116.2,867.7 1132,894.7 1100.5,894.7" fill="#8000FF"/>
<polygon points="1214.8,806.5 1230.5,833.5 1199,833.5" fill="#8000FF"/>
<polygon points="1310.4,750.7 1326.2,777.7 1294.7,777.7" fill="#8000FF"/>
<polygon points="1399.8,698.3 1415.6,725.3 1384.1,725.3" fill="#8000FF"/>
<polygon points="1487.4,645.9 1503.2,672.9 1471.7,672.9" fill="#8000FF"/>
<polygon points="1572.4,595.9 1588.2,622.9 1556.7,622.9" fill="#8000FF"/>
<polyline transform="scale(1.115,1)" points="313.90,1360.4 535.43,1359.2 539.01,1355.9 546.19,1349.5 556.05,1344.0 565.92,1336.5 587.17,1317.7 611.48,1295.5 635.87,1274.5 659.19,1253.5 683.77,1233.5 707.44,1213.9 729.78,1194.5 752.11,1176.5 857.85,1090.9 957.94,1017.5 1049.96,950.5 1138.83,889.5 1224.22,832.2 1304.75,778.7 1382.78,727.9 1457.67,678.5" fill="none" stroke="#000000" stroke-width="10.5" stroke-linejoin="round"/>
<polygon points="333.5,1351.4 366.5,1351.4 350,1378.4" fill="#000000"/>
<polygon points="580.5,1350.2 613.5,1350.2 597,1377.2" fill="#000000"/>
<polygon points="584.5,1346.9 617.5,1346.9 601,1373.9" fill="#000000"/>
<polygon points="592.5,1340.5 625.5,1340.5 609,1367.5" fill="#000000"/>
<polygon points="603.5,1335 636.5,1335 620,1362" fill="#000000"/>
<polygon points="614.5,1327.5 647.5,1327.5 631,1354.5" fill="#000000"/>
<polygon points="638.2,1308.7 671.2,1308.7 654.7,1335.7" fill="#000000"/>
<polygon points="665.3,1286.5 698.3,1286.5 681.8,1313.5" fill="#000000"/>
<polygon points="692.5,1265.5 725.5,1265.5 709,1292.5" fill="#000000"/>
<polygon points="718.5,1244.5 751.5,1244.5 735,1271.5" fill="#000000"/>
<polygon points="745.9,1224.5 778.9,1224.5 762.4,1251.5" fill="#000000"/>
<polygon points="772.3,1204.9 805.3,1204.9 788.8,1231.9" fill="#000000"/>
<polygon points="797.2,1185.5 830.2,1185.5 813.7,1212.5" fill="#000000"/>
<polygon points="822.1,1167.5 855.1,1167.5 838.6,1194.5" fill="#000000"/>
<polygon points="940,1081.9 973,1081.9 956.5,1108.9" fill="#000000"/>
<polygon points="1051.6,1008.5 1084.6,1008.5 1068.1,1035.5" fill="#000000"/>
<polygon points="1154.2,941.5 1187.2,941.5 1170.7,968.5" fill="#000000"/>
<polygon points="1253.3,880.5 1286.3,880.5 1269.8,907.5" fill="#000000"/>
<polygon points="1348.5,823.2 1381.5,823.2 1365,850.2" fill="#000000"/>
<polygon points="1438.3,769.7 1471.3,769.7 1454.8,796.7" fill="#000000"/>
<polygon points="1525.3,718.9 1558.3,718.9 1541.8,745.9" fill="#000000"/>
<polygon points="1608.8,669.5 1641.8,669.5 1625.3,696.5" fill="#000000"/>
<polyline transform="scale(1.115,1)" points="313.90,1360.4 648.52,1359.9 654.77,1358.4 661.03,1356.1 667.28,1353.1 673.53,1349.4 690.67,1336.3 708.57,1322.9 729.10,1307.7 749.24,1291.8 769.69,1275.0 790.00,1259.0 811.61,1243.0 832.11,1227.0 931.21,1147.5 1025.83,1078.0 1115.16,1013.0 1202.96,952.4 1286.01,896.0 1365.20,842.3 1441.08,790.0 1515.78,742.0" fill="none" stroke="#FF0000" stroke-width="10.5" stroke-linejoin="round"/>
<polygon points="331,1360.4 359.5,1345.4 359.5,1375.4" fill="#FF0000"/>
<polygon points="704.1,1359.9 732.6,1344.9 732.6,1374.9" fill="#FF0000"/>
<polygon points="711.1,1358.4 739.6,1343.4 739.6,1373.4" fill="#FF0000"/>
<polygon points="718,1356.1 746.5,1341.1 746.5,1371.1" fill="#FF0000"/>
<polygon points="725,1353.1 753.5,1338.1 753.5,1368.1" fill="#FF0000"/>
<polygon points="732,1349.4 760.5,1334.4 760.5,1364.4" fill="#FF0000"/>
<polygon points="751.1,1336.3 779.6,1321.3 779.6,1351.3" fill="#FF0000"/>
<polygon points="771,1322.9 799.5,1307.9 799.5,1337.9" fill="#FF0000"/>
<polygon points="794,1307.7 822.5,1292.7 822.5,1322.7" fill="#FF0000"/>
<polygon points="816.4,1291.8 844.9,1276.8 844.9,1306.8" fill="#FF0000"/>
<polygon points="839.2,1275 867.7,1260 867.7,1290" fill="#FF0000"/>
<polygon points="861.8,1259 890.3,1244 890.3,1274" fill="#FF0000"/>
<polygon points="885.9,1243 914.4,1228 914.4,1258" fill="#FF0000"/>
<polygon points="908.8,1227 937.3,1212 937.3,1242" fill="#FF0000"/>
<polygon points="1019.3,1147.5 1047.8,1132.5 1047.8,1162.5" fill="#FF0000"/>
<polygon points="1124.8,1078 1153.3,1063 1153.3,1093" fill="#FF0000"/>
<polygon points="1224.4,1013 1252.9,998 1252.9,1028" fill="#FF0000"/>
<polygon points="1322.3,952.4 1350.8,937.4 1350.8,967.4" fill="#FF0000"/>
<polygon points="1414.9,896 1443.4,881 1443.4,911" fill="#FF0000"/>
<polygon points="1503.2,842.3 1531.7,827.3 1531.7,857.3" fill="#FF0000"/>
<polygon points="1587.8,790 1616.3,775 1616.3,805" fill="#FF0000"/>
<polygon points="1671.1,742 1699.6,727 1699.6,757" fill="#FF0000"/>
<polyline transform="scale(1.115,1)" points="313.90,1360.4 775.34,1360.1 780.48,1359.4 785.62,1358.1 790.76,1356.4 797.44,1353.5 812.20,1346.8 826.64,1337.8 842.87,1326.8 859.01,1316.5 879.86,1305.9 899.50,1293.9 917.60,1281.2 934.73,1267.9 1017.13,1197.3 1106.01,1131.8 1192.11,1070.2 1274.62,1011.0 1354.44,955.7 1432.47,902.7 1507.80,852.0 1581.35,802.0" fill="none" stroke="#0000FF" stroke-width="10.5" stroke-linejoin="round"/>
<polygon points="369,1360.4 340.5,1345.4 340.5,1375.4" fill="#0000FF"/>
<polygon points="883.5,1360.1 855,1345.1 855,1375.1" fill="#0000FF"/>
<polygon points="889.2,1359.4 860.7,1344.4 860.7,1374.4" fill="#0000FF"/>
<polygon points="895,1358.1 866.5,1343.1 866.5,1373.1" fill="#0000FF"/>
<polygon points="900.7,1356.4 872.2,1341.4 872.2,1371.4" fill="#0000FF"/>
<polygon points="908.2,1353.5 879.7,1338.5 879.7,1368.5" fill="#0000FF"/>
<polygon points="924.6,1346.8 896.1,1331.8 896.1,1361.8" fill="#0000FF"/>
<polygon points="940.7,1337.8 912.2,1322.8 912.2,1352.8" fill="#0000FF"/>
<polygon points="958.8,1326.8 930.3,1311.8 930.3,1341.8" fill="#0000FF"/>
<polygon points="976.8,1316.5 948.3,1301.5 948.3,1331.5" fill="#0000FF"/>
<polygon points="1000,1305.9 971.5,1290.9 971.5,1320.9" fill="#0000FF"/>
<polygon points="1021.9,1293.9 993.4,1278.9 993.4,1308.9" fill="#0000FF"/>
<polygon points="1042.1,1281.2 1013.6,1266.2 1013.6,1296.2" fill="#0000FF"/>
<polygon points="1061.2,1267.9 1032.7,1252.9 1032.7,1282.9" fill="#0000FF"/>
<polygon points="1153.1,1197.3 1124.6,1182.3 1124.6,1212.3" fill="#0000FF"/>
<polygon points="1252.2,1131.8 1223.7,1116.8 1223.7,1146.8" fill="#0000FF"/>
<polygon points="1348.2,1070.2 1319.7,1055.2 1319.7,1085.2" fill="#0000FF"/>
<polygon points="1440.2,1011 1411.7,996 1411.7,1026" fill="#0000FF"/>
<polygon points="1529.2,955.7 1500.7,940.7 1500.7,970.7" fill="#0000FF"/>
<polygon points="1616.2,902.7 1587.7,887.7 1587.7,917.7" fill="#0000FF"/>
<polygon points="1700.2,852 1671.7,837 1671.7,867" fill="#0000FF"/>
<polygon points="1782.2,802 1753.7,787 1753.7,817" fill="#0000FF"/>
<polyline transform="scale(1.115,1)" points="313.90,1360.4 933.98,1360.3 937.20,1359.8 940.42,1359.1 943.64,1358.1 946.86,1356.8 954.89,1352.6 964.39,1346.9 976.05,1339.6 988.88,1332.4 1002.51,1324.0 1017.31,1313.9 1031.93,1303.8 1045.20,1293.2 1121.08,1236.6 1200.81,1179.0 1281.43,1121.2 1359.64,1066.5 1435.87,1012.8 1511.03,960.6 1582.96,910.7 1654.44,862.4" fill="none" stroke="#008080" stroke-width="10.5" stroke-linejoin="round"/>
<polygon points="350,1343.9 368.5,1360.4 350,1376.9 331.5,1360.4" fill="#008080"/>
<polygon points="1041.4,1343.8 1059.9,1360.3 1041.4,1376.8 1022.9,1360.3" fill="#008080"/>
<polygon points="1045,1343.3 1063.5,1359.8 1045,1376.3 1026.5,1359.8" fill="#008080"/>
<polygon points="1048.6,1342.6 1067.1,1359.1 1048.6,1375.6 1030.1,1359.1" fill="#008080"/>
<polygon points="1052.2,1341.6 1070.7,1358.1 1052.2,1374.6 1033.7,1358.1" fill="#008080"/>
<polygon points="1055.7,1340.3 1074.2,1356.8 1055.7,1373.3 1037.2,1356.8" fill="#008080"/>
<polygon points="1064.7,1336.1 1083.2,1352.6 1064.7,1369.1 1046.2,1352.6" fill="#008080"/>
<polygon points="1075.3,1330.4 1093.8,1346.9 1075.3,1363.4 1056.8,1346.9" fill="#008080"/>
<polygon points="1088.3,1323.1 1106.8,1339.6 1088.3,1356.1 1069.8,1339.6" fill="#008080"/>
<polygon points="1102.6,1315.9 1121.1,1332.4 1102.6,1348.9 1084.1,1332.4" fill="#008080"/>
<polygon points="1117.8,1307.5 1136.3,1324 1117.8,1340.5 1099.3,1324" fill="#008080"/>
<polygon points="1134.3,1297.4 1152.8,1313.9 1134.3,1330.4 1115.8,1313.9" fill="#008080"/>
<polygon points="1150.6,1287.3 1169.1,1303.8 1150.6,1320.3 1132.1,1303.8" fill="#008080"/>
<polygon points="1165.4,1276.7 1183.9,1293.2 1165.4,1309.7 1146.9,1293.2" fill="#008080"/>
<polygon points="1250,1220.1 1268.5,1236.6 1250,1253.1 1231.5,1236.6" fill="#008080"/>
<polygon points="1338.9,1162.5 1357.4,1179 1338.9,1195.5 1320.4,1179" fill="#008080"/>
<polygon points="1428.8,1104.7 1447.3,1121.2 1428.8,1137.7 1410.3,1121.2" fill="#008080"/>
<polygon points="1516,1050 1534.5,1066.5 1516,1083 1497.5,1066.5" fill="#008080"/>
<polygon points="1601,996.3 1619.5,1012.8 1601,1029.3 1582.5,1012.8" fill="#008080"/>
<polygon points="1684.8,944.1 1703.3,960.6 1684.8,977.1 1666.3,960.6" fill="#008080"/>
<polygon points="1765,894.2 1783.5,910.7 1765,927.2 1746.5,910.7" fill="#008080"/>
<polygon points="1844.7,845.9 1863.2,862.4 1844.7,878.9 1826.2,862.4" fill="#008080"/>
<polyline transform="scale(1.115,1)" points="313.90,1360.4 1076.96,1360.3 1079.92,1360.0 1082.88,1359.5 1085.83,1358.9 1088.79,1358.0 1097.76,1354.3 1105.83,1350.3 1116.59,1346.5 1128.25,1340.5 1139.91,1334.3 1152.47,1327.3 1164.13,1320.5 1172.87,1311.2 1238.57,1266.7 1308.25,1215.1 1380.27,1164.5 1456.81,1114.4 1528.88,1064.1 1597.67,1013.5 1668.16,964.5 1735.43,918.1" fill="none" stroke="#FF00FF" stroke-width="11" stroke-linejoin="round"/>
<polygon points="350,1344.8 366.5,1355.6 360.2,1373 339.8,1373 333.5,1355.6" fill="#FF00FF"/>
<polygon points="1200.8,1344.7 1217.4,1355.5 1211,1372.9 1190.6,1372.9 1184.3,1355.5" fill="#FF00FF"/>
<polygon points="1204.1,1344.4 1220.7,1355.2 1214.3,1372.6 1193.9,1372.6 1187.6,1355.2" fill="#FF00FF"/>
<polygon points="1207.4,1343.9 1223.9,1354.7 1217.6,1372.2 1197.2,1372.2 1190.9,1354.7" fill="#FF00FF"/>
<polygon points="1210.7,1343.3 1227.2,1354 1220.9,1371.5 1200.5,1371.5 1194.2,1354" fill="#FF00FF"/>
<polygon points="1214,1342.4 1230.5,1353.2 1224.2,1370.6 1203.8,1370.6 1197.5,1353.2" fill="#FF00FF"/>
<polygon points="1224,1338.7 1240.5,1349.5 1234.2,1366.9 1213.8,1366.9 1207.5,1349.5" fill="#FF00FF"/>
<polygon points="1233,1334.7 1249.5,1345.5 1243.2,1362.9 1222.8,1362.9 1216.5,1345.5" fill="#FF00FF"/>
<polygon points="1245,1330.9 1261.5,1341.7 1255.2,1359.1 1234.8,1359.1 1228.5,1341.7" fill="#FF00FF"/>
<polygon points="1258,1324.9 1274.5,1335.7 1268.2,1353.1 1247.8,1353.1 1241.5,1335.7" fill="#FF00FF"/>
<polygon points="1271,1318.7 1287.5,1329.5 1281.2,1346.9 1260.8,1346.9 1254.5,1329.5" fill="#FF00FF"/>
<polygon points="1285,1311.7 1301.5,1322.5 1295.2,1339.9 1274.8,1339.9 1268.5,1322.5" fill="#FF00FF"/>
<polygon points="1298,1304.9 1314.5,1315.7 1308.2,1333.1 1287.8,1333.1 1281.5,1315.7" fill="#FF00FF"/>
<polygon points="1307.8,1295.7 1324.3,1306.4 1318,1323.9 1297.5,1323.9 1291.2,1306.4" fill="#FF00FF"/>
<polygon points="1381,1251.1 1397.5,1261.9 1391.2,1279.3 1370.8,1279.3 1364.5,1261.9" fill="#FF00FF"/>
<polygon points="1458.7,1199.5 1475.2,1210.3 1468.9,1227.7 1448.5,1227.7 1442.2,1210.3" fill="#FF00FF"/>
<polygon points="1539,1148.9 1555.5,1159.7 1549.2,1177.1 1528.8,1177.1 1522.5,1159.7" fill="#FF00FF"/>
<polygon points="1624.3,1098.8 1640.9,1109.6 1634.6,1127 1614.1,1127 1607.8,1109.6" fill="#FF00FF"/>
<polygon points="1704.7,1048.5 1721.2,1059.3 1714.9,1076.7 1694.5,1076.7 1688.2,1059.3" fill="#FF00FF"/>
<polygon points="1781.4,997.9 1797.9,1008.7 1791.6,1026.1 1771.2,1026.1 1764.9,1008.7" fill="#FF00FF"/>
<polygon points="1860,948.9 1876.5,959.7 1870.2,977.1 1849.8,977.1 1843.5,959.7" fill="#FF00FF"/>
<polygon points="1935,902.5 1951.5,913.3 1945.2,930.7 1924.8,930.7 1918.5,913.3" fill="#FF00FF"/>
</g>
<g font-family="Liberation Sans, Arial, sans-serif" font-weight="bold" fill="#000">
<text transform="translate(303.8,1375.3) scale(1.078,1)" font-size="64.8" text-anchor="end">0.0</text>
<text transform="translate(303.8,1113.5) scale(1.078,1)" font-size="64.8" text-anchor="end">0.3</text>
<text transform="translate(303.8,851.7) scale(1.078,1)" font-size="64.8" text-anchor="end">0.6</text>
<text transform="translate(303.8,589.9) scale(1.078,1)" font-size="64.8" text-anchor="end">0.9</text>
<text transform="translate(303.8,328.1) scale(1.078,1)" font-size="64.8" text-anchor="end">1.2</text>
<text transform="translate(303.8,66.3) scale(1.078,1)" font-size="64.8" text-anchor="end">1.5</text>
<text transform="translate(348.5,1465.3) scale(1.078,1)" font-size="64.8" text-anchor="middle">0.0</text>
<text transform="translate(705.4,1465.3) scale(1.078,1)" font-size="64.8" text-anchor="middle">0.5</text>
<text transform="translate(1062.2,1465.3) scale(1.078,1)" font-size="64.8" text-anchor="middle">1.0</text>
<text transform="translate(1419.1,1465.3) scale(1.078,1)" font-size="64.8" text-anchor="middle">1.5</text>
<text transform="translate(1775.9,1465.3) scale(1.078,1)" font-size="64.8" text-anchor="middle">2.0</text>
<text transform="translate(645.1,1596.1) scale(1.1,1)" font-size="93.5" text-anchor="start">H/M (10</text>
<text transform="translate(1009.4,1543.3) scale(1.05,1)" font-size="54.5" text-anchor="start">3</text>
<text transform="translate(1041.4,1596.1) scale(1.1,1)" font-size="93.5" text-anchor="start">Oe*g/emu)</text>
<text transform="translate(120.6,1133.5) scale(1.11,1) rotate(-90)" font-size="95.0" text-anchor="start">M*M (10</text>
<text transform="translate(63,774.3) scale(1.08,1) rotate(-90)" font-size="54.0" text-anchor="start">3</text>
<text transform="translate(120.9,744.3) scale(1.11,1) rotate(-90)" font-size="95.0" text-anchor="start">emu</text>
<text transform="translate(61.7,547) scale(1.08,1) rotate(-90)" font-size="54.0" text-anchor="start">2</text>
<text transform="translate(120.6,516.6) scale(1.11,1) rotate(-90)" font-size="95.0" text-anchor="start">/g</text>
<text transform="translate(61.7,431) scale(1.08,1) rotate(-90)" font-size="54.0" text-anchor="start">2</text>
<text transform="translate(120.1,398.9) scale(1.11,1) rotate(-90)" font-size="95.0" text-anchor="start">)</text>
<text transform="translate(424.6,153.7) scale(1.0916,1)" font-size="97.57" text-anchor="start">ErFe</text>
<text transform="translate(661.1,193.6) scale(1.1335,1)" font-size="55.49" text-anchor="start">9.0</text>
<text transform="translate(747.1,154.7) scale(1.0966,1)" font-size="98.99" text-anchor="start">Mn</text>
<text transform="translate(904.3,193.6) scale(1.1097,1)" font-size="55.49" text-anchor="start">3.0</text>
<text transform="translate(1393.1,223.5) scale(1.0675,1)" font-size="89.3" text-anchor="start">270K</text>
<text transform="translate(1732.1,683.3) scale(1.0549,1)" font-size="89.58" text-anchor="start">340K</text>
</g>
<line x1="1597" y1="307" x2="1736" y2="499" stroke="#000" stroke-width="4.6" stroke-linecap="round"/><polygon points="1724.2,505.2 1746.9,492.2 1765.5,540" fill="#000"/>
</svg>
</body></html>
